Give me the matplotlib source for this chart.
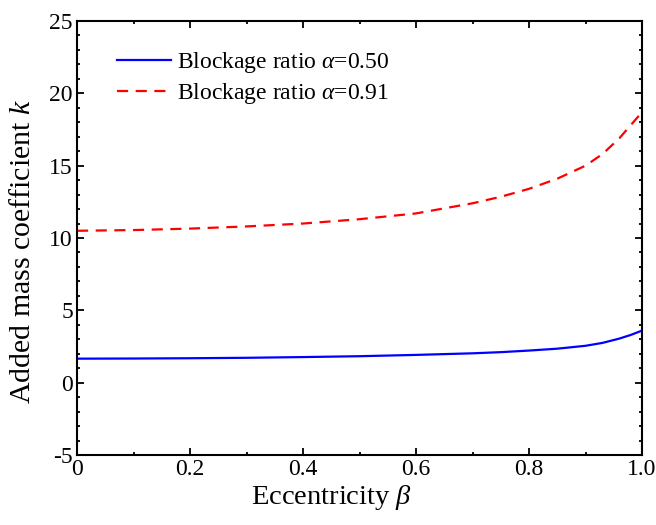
import matplotlib
matplotlib.use("Agg")
import matplotlib.pyplot as plt
from matplotlib.ticker import MultipleLocator

plt.rcParams['font.family'] = ['Liberation Serif', 'DejaVu Serif']
plt.rcParams['mathtext.fontset'] = 'custom'
plt.rcParams['mathtext.rm'] = 'Liberation Serif'
plt.rcParams['mathtext.it'] = 'Liberation Serif:italic'
plt.rcParams['axes.unicode_minus'] = False

# Eccentricity values and added mass coefficients for the two blockage ratios
beta = [0.0, 0.1, 0.2, 0.3, 0.4, 0.5, 0.6, 0.7, 0.75, 0.8, 0.85, 0.9, 0.93, 0.96, 0.98, 0.99, 1.0]
k_050 = [1.66, 1.67, 1.69, 1.72, 1.77, 1.83, 1.92, 2.03, 2.11, 2.22, 2.35, 2.55, 2.75, 3.05, 3.30, 3.45, 3.60]
k_091 = [10.50, 10.55, 10.65, 10.80, 11.00, 11.30, 11.70, 12.40, 12.85, 13.40, 14.10, 15.00, 15.80, 16.90, 17.80, 18.25, 18.70]

labels = [r'Blockage ratio $\alpha$=0.50', r'Blockage ratio $\alpha$=0.91']
xticks = [0, 0.2, 0.4, 0.6, 0.8, 1.0]
xticklabels = ['0', '0.2', '0.4', '0.6', '0.8', '1.0']

fig = plt.figure(figsize=(6.56, 5.25), dpi=100)
ax = fig.add_axes([0.1174, 0.1333, 0.8613, 0.8267])

ax.plot(beta, k_050, color='#0000ff', lw=1.6, label=labels[0])
ax.plot(beta, k_091, color='#ff0000', lw=1.6, dashes=(5, 3.4), label=labels[1])

ax.set_xlim(0, 1.0)
ax.set_ylim(-5, 25)
ax.set_xticks(xticks)
ax.set_xticklabels(xticklabels)
ax.xaxis.set_minor_locator(MultipleLocator(0.1))
ax.yaxis.set_major_locator(MultipleLocator(5))
ax.yaxis.set_minor_locator(MultipleLocator(1))

ax.tick_params(which='both', direction='in', top=True, right=True, width=1.3,
               labelsize=17, colors='black')
ax.tick_params(which='major', length=5)
ax.tick_params(which='minor', length=2.5)
ax.tick_params(axis='x', pad=3)
ax.tick_params(axis='y', pad=3)
for s in ax.spines.values():
    s.set_linewidth(1.5)

ax.set_xlabel(r'Eccentricity $\beta$', fontsize=20.5)
ax.set_ylabel(r'Added mass coefficient $k$', fontsize=21.5)
ax.xaxis.set_label_coords(0.451, -0.064)
ax.yaxis.set_label_coords(-0.072, 0.47)

ax.legend(loc='upper left', bbox_to_anchor=(0.033, 0.982), frameon=False,
          fontsize=17, handlelength=2.3, handletextpad=0.25, labelspacing=0.25)

fig.savefig('out.png', dpi=100)
